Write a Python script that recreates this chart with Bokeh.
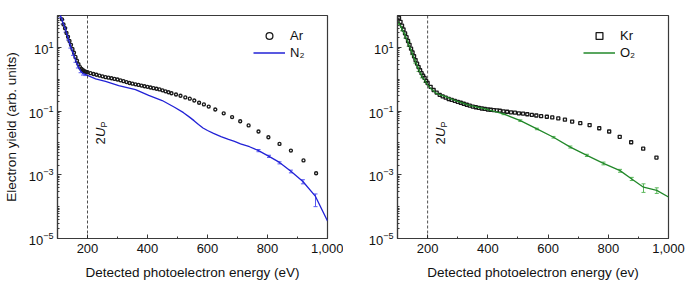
from math import pi
from bokeh.plotting import figure
from bokeh.models import (Range1d, FixedTicker, NumeralTickFormatter, Span, Label,
                          Legend, LegendItem, Whisker, TeeHead, ColumnDataSource)
from bokeh.layouts import row
from bokeh.embed import file_html
from bokeh.resources import INLINE

# ---------------- data ----------------
ar_energy = [105, 110, 115, 120, 125, 130, 135, 140, 145, 150, 155, 160, 165, 170, 175, 180,
             185, 190, 195, 200, 210, 220, 230, 240, 250, 260, 270, 280, 290, 300, 310, 320,
             330, 340, 350, 360, 370, 380, 390, 400, 410, 420, 430, 440, 450, 460, 470, 480,
             495, 510, 526, 541, 556, 572, 588, 604, 626, 654, 682, 709, 737, 770, 803, 840,
             878, 920, 962]
ar_yield = [200, 112, 75.9, 52.5, 39.8, 28.2, 21.4, 15.8, 12.0, 8.91, 6.76, 5.01, 3.80, 2.95,
            2.40, 2.09, 1.91, 1.78, 1.70, 1.66, 1.55, 1.46, 1.38, 1.30, 1.23, 1.16, 1.12, 1.07,
            1.02, 0.977, 0.923, 0.871, 0.813, 0.759, 0.724, 0.692, 0.661, 0.631, 0.603, 0.575,
            0.550, 0.525, 0.501, 0.479, 0.447, 0.417, 0.389, 0.363, 0.331, 0.302, 0.269, 0.245,
            0.214, 0.182, 0.162, 0.138, 0.112, 0.0851, 0.0646, 0.0479, 0.0355, 0.0229, 0.0151,
            0.00933, 0.00575, 0.00282, 0.00112]

n2_energy = [105, 110, 117, 127, 135, 143, 152, 160, 168, 177, 185, 193, 200, 227, 260, 304,
             360, 404, 449, 490, 520, 540, 555, 570, 585, 600, 620, 645, 670, 690, 710, 740,
             770, 805, 840, 878, 918, 960, 1000]
n2_yield = [178, 100, 63.1, 35.5, 20.0, 11.2, 6.61, 3.98, 2.63, 1.82, 1.51, 1.41, 1.32, 1.03,
            0.851, 0.631, 0.468, 0.309, 0.214, 0.132, 0.0891, 0.0646, 0.0501, 0.0380, 0.0295,
            0.0245, 0.0200, 0.0158, 0.0129, 0.0112, 0.00933, 0.00759, 0.00575, 0.00380,
            0.00245, 0.00129, 0.000617, 0.000209, 3.55e-5]
n2_err_energy = [110, 117, 127, 135, 143, 152, 160, 168, 177, 185, 193, 770, 805, 840, 878, 918, 960]
n2_err_low = [85, 54, 30, 17, 9.5, 5.6, 3.4, 2.25, 1.6, 1.35, 1.3, 0.0053, 0.0035, 0.0022,
              0.00115, 0.00052, 0.00010]
n2_err_high = [115, 73, 41, 23, 13, 7.6, 4.6, 3.0, 2.05, 1.65, 1.53, 0.0062, 0.0041, 0.00255,
               0.0014, 0.00070, 0.00025]

kr_energy = [100, 105, 110, 115, 120, 125, 130, 135, 140, 145, 150, 155, 160, 165, 170, 175,
             180, 185, 190, 195, 200, 210, 220, 230, 240, 250, 260, 270, 280, 290, 300, 310,
             320, 330, 340, 350, 360, 370, 380, 390, 400, 410, 420, 430, 440, 452, 464, 477,
             490, 503, 517, 531, 546, 561, 577, 596, 614, 634, 656, 680, 707, 738, 770, 803,
             838, 876, 916, 960]
kr_yield = [112, 83.2, 63.1, 47.9, 36.3, 27.5, 20.9, 15.8, 12.0, 9.12, 6.92, 5.25, 3.98, 3.09,
            2.40, 1.91, 1.55, 1.29, 1.10, 0.891, 0.759, 0.575, 0.457, 0.380, 0.324, 0.288, 0.263,
            0.240, 0.224, 0.209, 0.195, 0.182, 0.170, 0.158, 0.148, 0.138, 0.132, 0.126, 0.120,
            0.117, 0.112, 0.110, 0.107, 0.105, 0.102, 0.0977, 0.0955, 0.0912, 0.0891, 0.0851,
            0.0832, 0.0794, 0.0759, 0.0724, 0.0692, 0.0661, 0.0631, 0.0589, 0.0537, 0.0468,
            0.0417, 0.0363, 0.0288, 0.0229, 0.0155, 0.0105, 0.00661, 0.00347]

o2_energy = [100, 104, 115, 126, 137, 148, 159, 170, 181, 192, 200, 212, 230, 259, 286, 300,
             342, 400, 452, 508, 563, 618, 674, 729, 784, 839, 878, 917, 961, 1000]
o2_yield = [70.8, 60.3, 38.0, 22.9, 12.6, 6.92, 3.72, 2.04, 1.26, 0.891, 0.661, 0.490, 0.355,
            0.282, 0.224, 0.200, 0.148, 0.112, 0.0813, 0.0501, 0.0275, 0.0151, 0.00741, 0.00407,
            0.00229, 0.00135, 0.000741, 0.000407, 0.000324, 0.000200]
o2_err_energy = [104, 115, 126, 137, 148, 159, 170, 181, 192, 452, 508, 563, 618, 674, 729,
                 784, 839, 878, 917, 961]
o2_err_low = [52, 33, 19.5, 10.8, 5.9, 3.2, 1.75, 1.1, 0.80, 0.077, 0.047, 0.026, 0.0142,
              0.0069, 0.00375, 0.00205, 0.0012, 0.00066, 0.00028, 0.00026]
o2_err_high = [70, 44, 26.5, 14.6, 8.0, 4.3, 2.35, 1.45, 0.98, 0.086, 0.053, 0.029, 0.016,
               0.0080, 0.0044, 0.0025, 0.00148, 0.00083, 0.00052, 0.00039]

x_major_ticks = [200, 400, 600, 800, 1000]
x_minor_ticks = [300, 500, 700, 900]
y_major_ticks = [1e-5, 1e-3, 1e-1, 1e1]
two_up_energy = 200  # 2U_P position (eV)

FONT = "Liberation Sans"
FRAME_COLOR = "#3a3a3a"
NAN = float("nan")


def make_panel(width, border_left, border_right, gas_e, gas_y, marker, gas_label,
               mol_e, mol_y, mol_label, mol_color, err_color, err_e, err_lo, err_hi,
               xlabel, ylabel, panel_letter, letter_x, legend_x):
    p = figure(width=width, height=283, y_axis_type="log",
               x_range=Range1d(100, 1000), y_range=Range1d(1e-5, 1e2),
               output_backend="svg", toolbar_location=None,
               min_border_left=border_left, min_border_right=border_right,
               min_border_top=15, min_border_bottom=45)
    p.title.visible = False
    p.grid.visible = False
    p.background_fill_color = "white"
    p.border_fill_color = "white"
    p.outline_line_color = FRAME_COLOR
    p.outline_line_width = 1.2

    # axes
    p.xaxis.ticker = FixedTicker(ticks=x_major_ticks, minor_ticks=x_minor_ticks)
    p.xaxis.formatter = NumeralTickFormatter(format="0,0")
    minor_y = [m * 10.0 ** k for k in range(-5, 2) for m in range(1, 10)]
    minor_y = [v for v in minor_y if all(abs(v - t) / t > 1e-6 for t in y_major_ticks)]
    p.yaxis.ticker = FixedTicker(ticks=y_major_ticks, minor_ticks=minor_y)
    for ax in (p.xaxis[0], p.yaxis[0]):
        ax.axis_line_color = FRAME_COLOR
        ax.axis_line_width = 1.2
        ax.major_tick_line_color = FRAME_COLOR
        ax.minor_tick_line_color = FRAME_COLOR
        ax.major_tick_in = 4
        ax.major_tick_out = 0
        ax.minor_tick_in = 2
        ax.minor_tick_out = 0
        ax.major_label_text_font = FONT
        ax.major_label_text_font_size = "13px"
        ax.major_label_text_color = "#111111"
        ax.axis_label_text_font = FONT
        ax.axis_label_text_font_size = "13.5px"
        ax.axis_label_text_font_style = "normal"
        ax.axis_label_text_color = "#111111"
    p.xaxis.major_label_standoff = 5
    p.xaxis.axis_label_standoff = 9
    p.yaxis.major_label_standoff = 4
    p.yaxis.axis_label_standoff = 7
    p.xaxis.axis_label = xlabel
    if ylabel:
        p.yaxis.axis_label = ylabel

    # 2U_P line
    p.add_layout(Span(location=two_up_energy, dimension="height", line_color="#222222",
                      line_width=0.8, line_dash="3 2"))

    # data
    gas_src = ColumnDataSource(dict(x=gas_e, y=gas_y))
    p.scatter("x", "y", source=gas_src, marker=marker, size=3.0, line_color="#1a1a1a",
              line_width=1.35, fill_color=None)
    mol_src = ColumnDataSource(dict(x=mol_e, y=mol_y))
    m = p.line("x", "y", source=mol_src, line_color=mol_color, line_width=1.3)
    err_src = ColumnDataSource(dict(x=err_e, lo=err_lo, hi=err_hi))
    p.add_layout(Whisker(source=err_src, base="x", lower="lo", upper="hi",
                         dimension="height", line_color=err_color, line_width=1,
                         upper_head=TeeHead(size=4, line_color=err_color, line_width=1),
                         lower_head=TeeHead(size=4, line_color=err_color, line_width=1)))

    # legend key: a larger marker with no position, so it is only drawn in the legend
    key_src = ColumnDataSource(dict(x=[NAN], y=[NAN]))
    key = p.scatter("x", "y", source=key_src, marker=marker, size=8, line_color="#1a1a1a",
                    line_width=1.3, fill_color=None)
    legend = Legend(items=[LegendItem(label=gas_label, renderers=[key]),
                           LegendItem(label=mol_label, renderers=[m])],
                    location=(legend_x, 177), orientation="vertical",
                    glyph_width=32, glyph_height=17, label_height=16, label_standoff=5,
                    spacing=0, padding=0, margin=0, border_line_alpha=0,
                    background_fill_alpha=0, label_text_font=FONT,
                    label_text_font_size="13px", label_text_color="#111111")
    p.add_layout(legend, "center")

    # 2U_P annotation (rotated)
    common = dict(x_units="screen", y_units="screen", angle=pi / 2, text_align="left",
                  text_baseline="middle", text_font=FONT, text_color="#111111")
    p.add_layout(Label(x=43, y=94, text="2", text_font_size="13px", **common))
    p.add_layout(Label(x=43, y=101.5, text="U", text_font_size="13px",
                       text_font_style="italic", **common))
    p.add_layout(Label(x=46, y=111, text="P", text_font_size="9px", **common))

    # panel letter
    p.add_layout(Label(x=letter_x, y=225, x_units="screen", y_units="screen",
                       text=panel_letter, text_font=FONT, text_font_size="16px",
                       text_font_style="bold", text_color="#000000",
                       text_baseline="alphabetic"))
    return p


pa = make_panel(343, 57, 16, ar_energy, ar_yield, "circle", "Ar",
                n2_energy, n2_yield, "N\u2082", "#2222d6", "#5a5af2",
                n2_err_energy, n2_err_low, n2_err_high,
                "Detected photoelectron energy (eV)", "Electron yield (arb. units)",
                "a", -56, 196)
pb = make_panel(342, 54, 17, kr_energy, kr_yield, "square", "Kr",
                o2_energy, o2_yield, "O\u2082", "#22882a", "#5cb85c",
                o2_err_energy, o2_err_low, o2_err_high,
                "Detected photoelectron energy (ev)", None,
                "b", -35, 186)

layout = row(pa, pb)
open("out.html", "w").write(file_html(layout, INLINE))
